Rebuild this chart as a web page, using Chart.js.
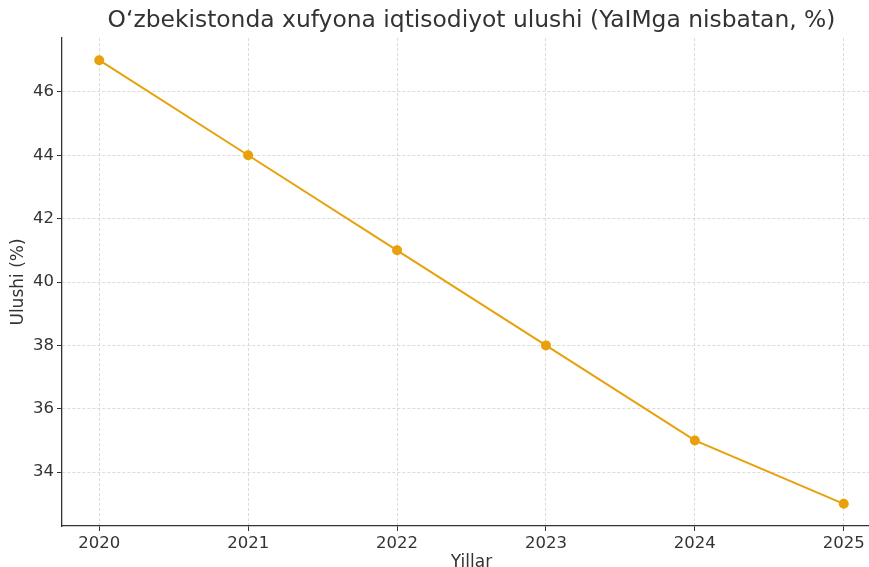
<!DOCTYPE html>
<html>
<head>
<meta charset="utf-8">
<script src="https://cdn.jsdelivr.net/npm/chart.js@4/dist/chart.umd.min.js"></script>
<style>
html,body{margin:0;padding:0;background:#fff;overflow:hidden;}
#wrap{width:887px;height:575px;position:relative;}
</style>
</head>
<body>
<div id="wrap"><canvas id="c"></canvas></div>
<script>
const years = [2020, 2021, 2022, 2023, 2024, 2025];
const shares = [47, 44, 41, 38, 35, 33];
const yTicks = [34, 36, 38, 40, 42, 44, 46];
const chartTitle = "O‘zbekistonda xufyona iqtisodiyot ulushi (YaIMga nisbatan, %)";
const xTitle = "Yillar";
const yTitle = "Ulushi (%)";

const FONT = "'DejaVu Sans', sans-serif";
const TXT = '#333333';

const titlePlugin = {
  id: 'ctitle',
  afterDraw(chart) {
    const ctx = chart.ctx, a = chart.chartArea;
    ctx.save();
    ctx.font = "23.4px " + FONT;
    ctx.fillStyle = TXT;
    ctx.textAlign = 'center';
    ctx.textBaseline = 'middle';
    ctx.fillText(chartTitle, (a.left + a.right) / 2, 21);
    ctx.restore();
  }
};

const gridOpts = {
  color: '#d2d2d2',
  lineWidth: 0.8,
  tickLength: 5,
  tickColor: '#333',
  tickBorderDash: [],
  tickWidth: 1
};

new Chart(document.getElementById('c'), {
  type: 'line',
  data: {
    datasets: [{
      data: years.map((y, i) => ({x: y, y: shares[i]})),
      borderColor: '#E8A00C',
      backgroundColor: '#E8A00C',
      borderWidth: 2,
      pointRadius: 4,
      pointHoverRadius: 4,
      tension: 0
    }]
  },
  options: {
    responsive: true,
    maintainAspectRatio: false,
    animation: false,
    layout: {padding: {top: 38, right: 0, left: 0, bottom: 0}},
    plugins: {legend: {display: false}, tooltip: {enabled: false}},
    scales: {
      x: {
        type: 'linear',
        min: 2019.75,
        max: 2025.25,
        afterBuildTicks(s) { s.ticks = years.map(v => ({value: v})); },
        afterFit(s) { s.height = 49; },
        ticks: {
          font: {family: FONT, size: 16.5},
          color: TXT,
          padding: 3,
          maxRotation: 0,
          autoSkip: false,
          callback: v => String(v)
        },
        grid: gridOpts,
        border: {display: true, color: '#333', width: 1.3, dash: [3, 2]},
        title: {display: true, text: xTitle, color: TXT, font: {family: FONT, size: 17}, padding: {top: 0, bottom: 2}}
      },
      y: {
        min: 32.3,
        max: 47.7,
        afterBuildTicks(s) { s.ticks = yTicks.map(v => ({value: v})); },
        afterFit(s) { s.width = 62; },
        ticks: {
          font: {family: FONT, size: 16.5},
          color: TXT,
          padding: 3
        },
        grid: gridOpts,
        border: {display: true, color: '#333', width: 1.3, dash: [3, 2]},
        title: {display: true, text: yTitle, color: TXT, font: {family: FONT, size: 17}, padding: {top: 8, bottom: 0}}
      }
    }
  },
  plugins: [titlePlugin]
});
</script>
</body>
</html>
